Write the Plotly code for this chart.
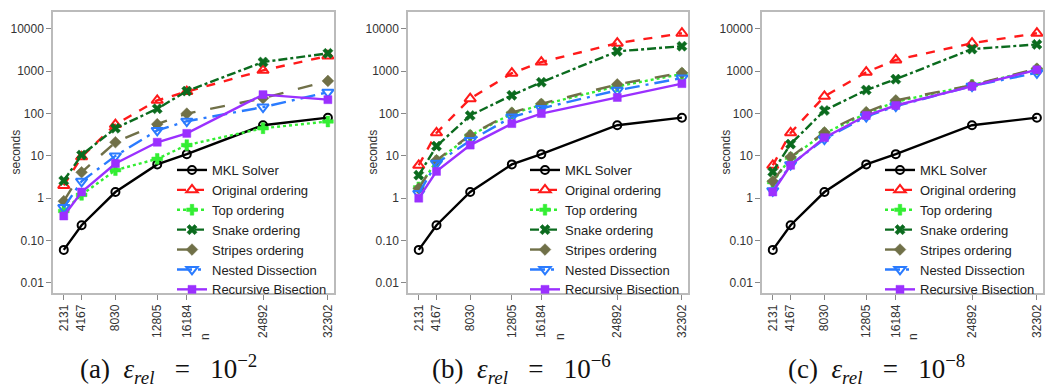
import plotly.graph_objects as go

# ---------------- data ----------------
n_values = [2131, 4167, 8030, 12805, 16184, 24892, 32302]
n_labels = ["2131", "4167", "8030", "12805", "16184", "24892", "32302"]

series_names = ["MKL Solver", "Original ordering", "Top ordering", "Snake ordering",
                "Stripes ordering", "Nested Dissection", "Recursive Bisection"]

mkl = [0.06, 0.23, 1.4, 6.3, 11, 53, 80]

# panel (a) eps = 1e-2
orig_a = [2.0, 9.5, 55, 205, 330, 1050, 2300]
top_a = [0.5, 1.2, 4.6, 8.5, 18, 45, 65]
snake_a = [2.6, 10.5, 45, 130, 340, 1650, 2650]
stripes_a = [0.85, 4.1, 21, 56, 100, 230, 590]
nested_a = [0.6, 2.5, 10, 40, 66, 142, 320]
recur_a = [0.38, 1.4, 6.6, 21, 34, 280, 213]

# panel (b) eps = 1e-6
orig_b = [6, 35, 225, 900, 1650, 4600, 7900]
top_b = [1.8, 7.5, 30, 100, 160, 440, 860]
snake_b = [3.5, 17, 90, 270, 550, 2950, 3900]
stripes_b = [1.7, 7.9, 31, 105, 170, 490, 920]
nested_b = [1.3, 6.7, 23, 83, 132, 355, 690]
recur_b = [1.0, 4.3, 18, 58, 100, 240, 510]

# panel (c) eps = 1e-8
orig_c = [6, 35, 255, 950, 1850, 4600, 7900]
top_c = [2.4, 9, 34, 100, 190, 470, 1100]
snake_c = [4.2, 19, 118, 360, 650, 3350, 4300]
stripes_c = [2.5, 9.4, 36, 108, 205, 470, 1150]
nested_c = [1.5, 6.2, 25, 85, 150, 445, 920]
recur_c = [1.4, 6.0, 27, 90, 155, 440, 1080]

panels = [
    [mkl, orig_a, top_a, snake_a, stripes_a, nested_a, recur_a],
    [mkl, orig_b, top_b, snake_b, stripes_b, nested_b, recur_b],
    [mkl, orig_c, top_c, snake_c, stripes_c, nested_c, recur_c],
]
panel_tags = ["(a)", "(b)", "(c)"]
eps_exponents = ["−2", "−6", "−8"]

y_tickvals = [0.01, 0.1, 1, 10, 100, 1000, 10000]
y_ticktext = ["0.01", "0.10", "1", "10", "100", "1000", "10000"]

# ---------------- styles ----------------
colors = ["#000000", "#FF1A1A", "#33EE33", "#0B6B1E", "#707048", "#2A7BFF", "#9B30FF"]
dashes = ["solid", "dash", "dot", "dashdot", "longdash", "longdashdot", "solid"]
symbols = ["circle-open", "triangle-up-open", "cross", "x",
           "diamond", "triangle-down-open", "square"]
msizes = [8, 10, 9, 9, 9, 10, 8]

W, H = 1045, 389
boxes = [(53, 334), (408, 688), (762, 1043)]
y_top, y_bot = 12, 293
n_title_x = [205, 560, 913]
seconds_x = [15, 372, 725]
caption_x = [168, 521, 876]
legend_x = [172, 525, 880]

fig = go.Figure()

for p in range(3):
    xa = "x" if p == 0 else f"x{p+1}"
    ya = "y" if p == 0 else f"y{p+1}"
    lg = "legend" if p == 0 else f"legend{p+1}"
    for s in range(7):
        fig.add_trace(go.Scatter(
            x=n_values, y=panels[p][s], mode="lines+markers", name=series_names[s],
            xaxis=xa, yaxis=ya, legend=lg,
            line=dict(color=colors[s], width=2.4, dash=dashes[s]),
            marker=dict(symbol=symbols[s], size=msizes[s], color=colors[s],
                        line=dict(color=colors[s], width=2 if "open" in symbols[s] else 0.5)),
        ))

layout = dict(
    width=W, height=H, margin=dict(l=0, r=0, t=0, b=0),
    paper_bgcolor="white", plot_bgcolor="white",
    font=dict(family="Liberation Sans, Arial, sans-serif", size=12, color="#333333"),
    annotations=[],
)

sp = "&nbsp;"
for p in range(3):
    xl, xr = boxes[p]
    xkey = "xaxis" if p == 0 else f"xaxis{p+1}"
    ykey = "yaxis" if p == 0 else f"yaxis{p+1}"
    ya = "y" if p == 0 else f"y{p+1}"
    xa = "x" if p == 0 else f"x{p+1}"
    layout[xkey] = dict(
        domain=[xl / W, xr / W], anchor=ya, range=[900, 33000],
        tickmode="array", tickvals=n_values, ticktext=n_labels, tickangle=-90,
        ticks="outside", ticklen=5, tickcolor="#888888", showgrid=False, zeroline=False,
        showline=True, mirror=True, linecolor="#BBBBBB", linewidth=1.5,
        tickfont=dict(size=12, color="#333333"),
    )
    layout[ykey] = dict(
        domain=[1 - y_bot / H, 1 - y_top / H], anchor=xa, type="log",
        range=[-2.24, 4.4], tickmode="array", tickvals=y_tickvals, ticktext=y_ticktext,
        ticks="outside", ticklen=5, tickcolor="#888888", showgrid=False, zeroline=False,
        showline=True, mirror=True, linecolor="#BBBBBB", linewidth=1.5,
        tickfont=dict(size=12, color="#333333"),
    )
    lg = "legend" if p == 0 else f"legend{p+1}"
    layout[lg] = dict(
        x=legend_x[p] / W, y=1 - 155 / H, xanchor="left", yanchor="top",
        bgcolor="rgba(0,0,0,0)", borderwidth=0,
        font=dict(family="Liberation Sans, Arial, sans-serif", size=13, color="#222222"),
        itemwidth=30, tracegroupgap=0,
    )
    caption = (f"{panel_tags[p]}{sp}{sp}<i>ε<sub>rel</sub></i>{sp}{sp}{sp}={sp}{sp}{sp}"
               f"10<sup>{eps_exponents[p]}</sup>")
    layout["annotations"] += [
        dict(text="seconds", x=seconds_x[p] / W, y=1 - 152.5 / H, xref="paper", yref="paper",
             textangle=-90, showarrow=False, xanchor="center", yanchor="middle",
             font=dict(size=12, color="#333333")),
        dict(text="n", x=n_title_x[p] / W, y=1 - 337 / H, xref="paper", yref="paper",
             textangle=-90, showarrow=False, xanchor="center", yanchor="middle",
             font=dict(size=12, color="#333333")),
        dict(text=caption, x=caption_x[p] / W, y=1 - 369 / H, xref="paper", yref="paper",
             showarrow=False, xanchor="center", yanchor="middle",
             font=dict(family="Liberation Serif, Times New Roman, serif", size=27, color="#111111")),
    ]

fig.update_layout(**layout)
fig.write_html("out.html")
